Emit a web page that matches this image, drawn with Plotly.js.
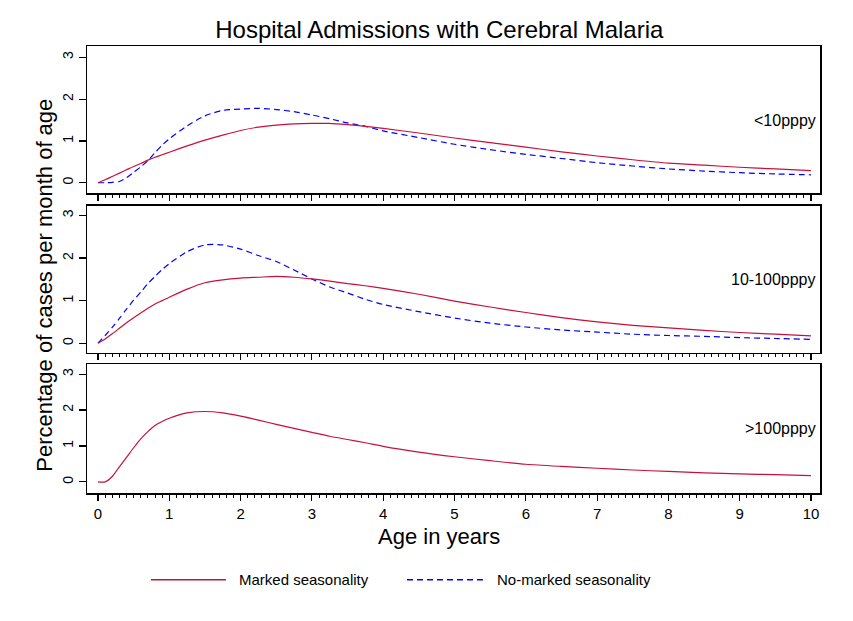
<!DOCTYPE html>
<html>
<head>
<meta charset="utf-8">
<script src="https://cdn.plot.ly/plotly-3.0.1.min.js"></script>
<style>
  html, body { margin: 0; padding: 0; background: #fff; }
  #chart { width: 853px; height: 621px; }
</style>
</head>
<body>
<div id="chart"></div>
<script>
// ======== DATA ========
var AGE = [0, 0.1, 0.2, 0.3, 0.4, 0.5, 0.6, 0.7, 0.8, 0.9, 1, 1.25, 1.5, 1.75, 2, 2.25, 2.5, 2.75,
           3, 3.25, 3.5, 3.75, 4, 4.5, 5, 5.5, 6, 6.5, 7, 7.5, 8, 8.5, 9, 9.5, 10];

// <10pppy
var LOW_MARKED = [0, 0.07, 0.15, 0.23, 0.31, 0.39, 0.46, 0.54, 0.61, 0.67, 0.73, 0.88, 1.02, 1.14, 1.25, 1.33, 1.38, 1.41,
                  1.42, 1.42, 1.39, 1.35, 1.30, 1.19, 1.07, 0.96, 0.85, 0.74, 0.64, 0.55, 0.47, 0.42, 0.37, 0.33, 0.29];
var LOW_NOMARK = [0, 0, 0.01, 0.03, 0.12, 0.25, 0.38, 0.53, 0.72, 0.90, 1.05, 1.36, 1.60, 1.73, 1.76, 1.78, 1.75, 1.70,
                  1.62, 1.53, 1.43, 1.35, 1.24, 1.08, 0.92, 0.79, 0.68, 0.58, 0.48, 0.40, 0.33, 0.28, 0.24, 0.21, 0.19];

// 10-100pppy
var MID_MARKED = [0, 0.1, 0.22, 0.35, 0.48, 0.6, 0.71, 0.82, 0.92, 1.0, 1.08, 1.27, 1.42, 1.49, 1.53, 1.55, 1.57, 1.55,
                  1.51, 1.46, 1.40, 1.35, 1.29, 1.15, 0.99, 0.85, 0.72, 0.60, 0.50, 0.42, 0.36, 0.30, 0.25, 0.21, 0.17];
var MID_NOMARK = [0, 0.18, 0.37, 0.58, 0.8, 1.01, 1.2, 1.4, 1.57, 1.73, 1.87, 2.15, 2.31, 2.31, 2.21, 2.06, 1.92, 1.72,
                  1.51, 1.32, 1.18, 1.03, 0.91, 0.74, 0.59, 0.47, 0.38, 0.31, 0.26, 0.21, 0.18, 0.16, 0.13, 0.11, 0.09];

// >100pppy
var HIGH_MARKED = [0, 0, 0.15, 0.42, 0.68, 0.95, 1.2, 1.4, 1.57, 1.68, 1.77, 1.92, 1.96, 1.92, 1.83, 1.72, 1.60, 1.49,
                   1.38, 1.27, 1.18, 1.09, 0.99, 0.83, 0.70, 0.59, 0.49, 0.43, 0.38, 0.33, 0.29, 0.25, 0.22, 0.20, 0.175];

var PANELS = ['<10pppy', '10-100pppy', '>100pppy'];
var X_TICKS = [0, 1, 2, 3, 4, 5, 6, 7, 8, 9, 10];
var Y_TICKS = [0, 1, 2, 3];
var SERIES = ['Marked seasonality', 'No-marked seasonality'];

// ======== STYLE ========
var RED = '#c8103c';
var BLUE = '#0000ff';
var DASH = '6px,4px';
var FONT = 'Arial, "Liberation Sans", sans-serif';

var minorVals = [];
for (var i = 1; i < 100; i++) {
  if (i % 10 != 0) minorVals.push(i / 10);
}

function markedTrace(y, n) {
  return {
    x: AGE, y: y, xaxis: 'x' + n, yaxis: 'y' + n,
    type: 'scatter', mode: 'lines', showlegend: false, hoverinfo: 'skip',
    line: {color: RED, width: 1.2, shape: 'spline', smoothing: 0.7}
  };
}
function noMarkTrace(y, n) {
  return {
    x: AGE, y: y, xaxis: 'x' + n, yaxis: 'y' + n,
    type: 'scatter', mode: 'lines', showlegend: false, hoverinfo: 'skip',
    line: {color: BLUE, width: 1.2, dash: DASH, shape: 'spline', smoothing: 0.7}
  };
}

var data = [
  noMarkTrace(LOW_NOMARK, ''), markedTrace(LOW_MARKED, ''),
  noMarkTrace(MID_NOMARK, 2), markedTrace(MID_MARKED, 2),
  markedTrace(HIGH_MARKED, 3)
];

function xAxis(anchor, labels) {
  return {
    anchor: anchor, range: [-0.154, 10.126], fixedrange: true,
    tickmode: 'array', tickvals: X_TICKS, ticktext: X_TICKS.map(String),
    showticklabels: labels, ticks: 'outside', ticklen: 6, tickwidth: 1.2, tickcolor: '#000',
    minor: {tickmode: 'array', tickvals: minorVals, ticks: 'outside', ticklen: 3, tickwidth: 1, tickcolor: '#000', showgrid: false},
    showgrid: false, zeroline: false,
    showline: true, mirror: true, linecolor: '#000', linewidth: 1.5,
    tickfont: {family: FONT, size: 15, color: '#000'}
  };
}
function yAxis(anchor, domain, range) {
  return {
    anchor: anchor, domain: domain, range: range, fixedrange: true,
    tickmode: 'array', tickvals: Y_TICKS, ticktext: Y_TICKS.map(String),
    tickangle: -90, ticks: 'outside', ticklen: 7, tickwidth: 1.2, tickcolor: '#000',
    showgrid: false, zeroline: false,
    showline: true, mirror: true, linecolor: '#000', linewidth: 1.5,
    tickfont: {family: FONT, size: 14, color: '#000'}
  };
}

var annotations = [];
var panelAxes = ['y', 'y2', 'y3'];
PANELS.forEach(function(label, k) {
  annotations.push({
    text: label, xref: 'paper', yref: panelAxes[k], x: 1, y: 1.5,
    xanchor: 'right', yanchor: 'middle', xshift: -2, showarrow: false,
    font: {family: FONT, size: 16, color: '#000'}
  });
});
// axis titles
annotations.push({
  text: 'Percentage of cases per month of age', xref: 'paper', yref: 'paper',
  x: -0.0573, y: 0.466, textangle: -90, showarrow: false,
  xanchor: 'center', yanchor: 'middle',
  font: {family: FONT, size: 22, color: '#000'}
});
annotations.push({
  text: 'Age in years', xref: 'paper', yref: 'paper',
  x: 0.48, y: -0.0977, showarrow: false, xanchor: 'center', yanchor: 'middle',
  font: {family: FONT, size: 22, color: '#000'}
});
// legend text
annotations.push({
  text: SERIES[0], xref: 'paper', yref: 'paper', x: 0.2046, y: -0.1938,
  xanchor: 'left', yanchor: 'middle', showarrow: false,
  font: {family: FONT, size: 15, color: '#000'}
});
annotations.push({
  text: SERIES[1], xref: 'paper', yref: 'paper', x: 0.5566, y: -0.1938,
  xanchor: 'left', yanchor: 'middle', showarrow: false,
  font: {family: FONT, size: 15, color: '#000'}
});

var shapes = [
  {type: 'line', xref: 'paper', yref: 'paper', x0: 0.0873, x1: 0.1896, y0: -0.1938, y1: -0.1938,
   line: {color: RED, width: 1.5}},
  {type: 'line', xref: 'paper', yref: 'paper', x0: 0.4366, x1: 0.5402, y0: -0.1938, y1: -0.1938,
   line: {color: BLUE, width: 1.5, dash: DASH}}
];

var layout = {
  width: 853, height: 621,
  margin: {l: 87, r: 33, t: 46, b: 128, pad: 0},
  paper_bgcolor: '#fff', plot_bgcolor: '#fff',
  showlegend: false,
  title: {
    text: 'Hospital Admissions with Cerebral Malaria',
    x: 0.515, xanchor: 'center', xref: 'container',
    y: 0.952, yanchor: 'middle', yref: 'container',
    font: {family: FONT, size: 24, color: '#000'}
  },
  xaxis: xAxis('y', false),
  yaxis: yAxis('x', [0.6707, 1], [-0.25, 3.27]),
  xaxis2: xAxis('y2', false),
  yaxis2: yAxis('x2', [0.3143, 0.643], [-0.22, 3.235]),
  xaxis3: xAxis('y3', true),
  yaxis3: yAxis('x3', [0, 0.2884], [-0.31, 3.28]),
  annotations: annotations,
  shapes: shapes
};

Plotly.newPlot('chart', data, layout, {displayModeBar: false, staticPlot: true});
</script>
</body>
</html>
